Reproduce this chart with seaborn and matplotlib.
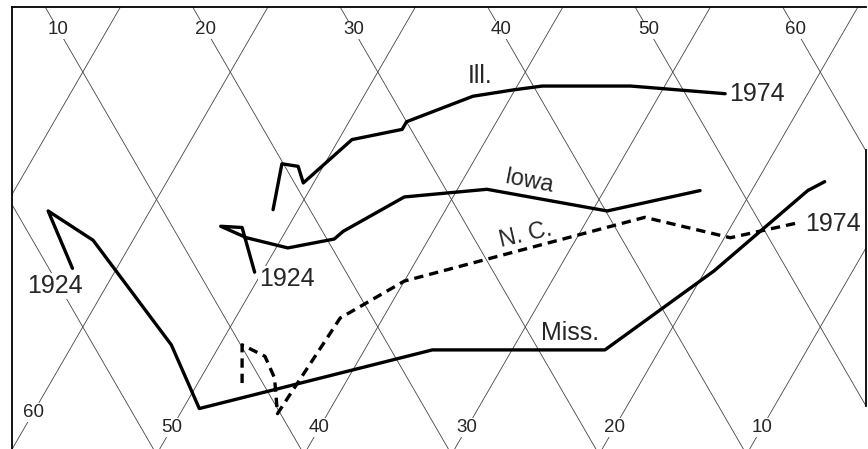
import numpy as np
import pandas as pd
import seaborn as sns
import matplotlib.pyplot as plt

# readings on the two slanted scales: a = upper scale (10..60), b = lower scale (60..10)
ill_a = [17.5, 19.9, 20.9, 20.6, 25.6, 29.4, 30.0, 35.5, 38.5, 40.6, 46.6, 52.7]
ill_b = [51.7, 52.9, 51.7, 50.7, 49.1, 46.1, 46.1, 42.6, 40.1, 38.3, 32.3, 25.6]

iowa_a = [13.8, 14.7, 13.3, 14.6, 17.0, 20.5, 21.4, 26.9, 32.8, 40.1, 47.2]
iowa_b = [50.5, 53.1, 54.6, 52.4, 49.2, 46.4, 46.1, 43.3, 38.0, 29.0, 23.5]

nc_a = [8.6, 10.1, 11.2, 11.0, 9.8, 17.8, 23.6, 42.4, 47.4, 52.7]
nc_b = [47.0, 48.5, 46.5, 45.0, 43.4, 42.9, 40.0, 26.2, 19.6, 15.5]

miss_a = [1.6, 2.2, 4.1, 5.3, 4.7, 22.8, 34.5, 45.0, 54.5, 56.0]
miss_b = [63.0, 66.9, 62.7, 53.3, 48.9, 35.4, 23.7, 19.4, 16.2, 15.4]

top_ticks = [10, 20, 30, 40, 50, 60]
bottom_ticks = [60, 50, 40, 30, 20, 10]

H = np.sqrt(3) / 2


def tern(a, b):
    a = np.asarray(a, dtype=float)
    b = np.asarray(b, dtype=float)
    return (a - b) / 2, (a + b) * H


sns.set_style("white")
plt.rcParams['font.family'] = ['Liberation Sans', 'DejaVu Sans']

fig = plt.figure(figsize=(8.68, 4.49), dpi=100)
ax = fig.add_axes([12 / 868, 0, 854 / 868, 442 / 449])

# triangular grid
grid_kw = dict(color='#444444', lw=0.6, zorder=1)
span = np.array([-30, 120])
for v in range(-20, 100, 10):
    x, y = tern([v, v], span)
    ax.plot(x, y, **grid_kw)
    x, y = tern(span, [v, v])
    ax.plot(x, y, **grid_kw)

rows = []
for name, aa, bb in [("Ill.", ill_a, ill_b), ("Iowa", iowa_a, iowa_b),
                     ("N.C.", nc_a, nc_b), ("Miss.", miss_a, miss_b)]:
    x, y = tern(aa, bb)
    for i, (xi, yi) in enumerate(zip(x, y)):
        rows.append({"state": name, "order": i, "x": xi, "y": yi})
df = pd.DataFrame(rows)

for name in ["Ill.", "Iowa", "Miss."]:
    sns.lineplot(data=df[df.state == name], x="x", y="y", sort=False,
                 estimator=None, color='black', lw=2.4, ax=ax, zorder=3)
sns.lineplot(data=df[df.state == "N.C."], x="x", y="y", sort=False,
             estimator=None, color='black', lw=2.4, dashes=False, ax=ax,
             zorder=3, linestyle=(0, (2.8, 1.8)))

box = dict(facecolor='white', edgecolor='none', pad=0.6)
for t in top_ticks:
    x, y = tern(t, 83.3 - t)
    ax.text(x, y, str(t), ha='center', va='center', fontsize=13.5,
            bbox=box, zorder=2)
for t in bottom_ticks:
    s = 53.3 if t == 60 else 52.1
    x, y = tern(s - t, t)
    ax.text(x, y, str(t), ha='center', va='center', fontsize=13.5,
            bbox=box, zorder=2)

labels = [
    ("1924", -0.3, 63.5, 'center', 0),
    ("1924", 15.7, 48.05, 'center', 0),
    ("1974", 53.0, 25.3, 'left', 0),
    ("1974", 53.0, 15.1, 'left', 0),
    ("Ill.", 36.8, 42.9, 'center', 0),
    ("Miss.", 32.8, 26.75, 'center', 0),
]
for txt, a, b, ha, rot in labels:
    x, y = tern(a, b)
    ax.text(x, y, txt, ha=ha, va='center', fontsize=18, bbox=box, zorder=2)

x, y = tern(36.0, 35.4)
ax.text(x, y, "Iowa", ha='center', va='center', fontsize=17, rotation=-11,
        zorder=2)
x, y = tern(33.6, 33.6)
ax.text(x, y, "N. C.", ha='center', va='center', fontsize=17, rotation=13,
        zorder=2)

ax.set_xlim(-34.8, 23.1)
ax.set_ylim(43.67, 73.7)
ax.set_xticks([])
ax.set_yticks([])
ax.set_xlabel("")
ax.set_ylabel("")
if ax.get_legend():
    ax.get_legend().remove()

for side in ['top', 'left', 'right']:
    ax.spines[side].set_color('black')
    ax.spines[side].set_linewidth(1.3)
ax.spines['bottom'].set_visible(False)
ax.spines['right'].set_bounds(46.6, 64.0)

fig.savefig("out.png", dpi=100)
